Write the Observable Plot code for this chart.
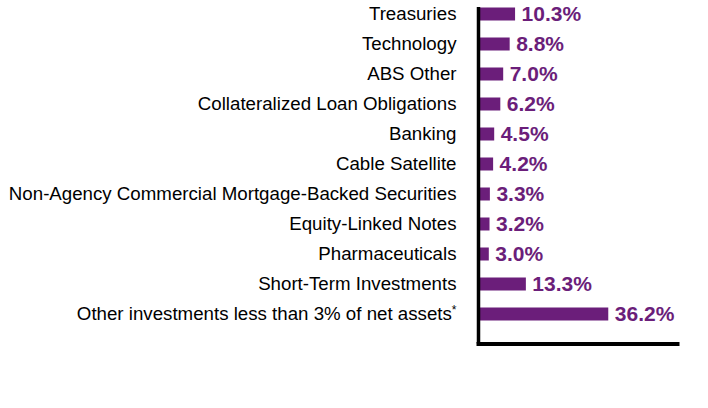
<!DOCTYPE html>
<html><head><meta charset="utf-8">
<script src="https://cdn.jsdelivr.net/npm/d3@7"></script>
<script src="https://cdn.jsdelivr.net/npm/@observablehq/plot@0.6"></script>
<style>body{margin:0;background:#fff;}</style>
</head><body><div id="chart"></div>
<script>
const categories = [
  "Treasuries",
  "Technology",
  "ABS Other",
  "Collateralized Loan Obligations",
  "Banking",
  "Cable Satellite",
  "Non-Agency Commercial Mortgage-Backed Securities",
  "Equity-Linked Notes",
  "Pharmaceuticals",
  "Short-Term Investments",
  "Other investments less than 3% of net assets"
];
const values = [10.3, 8.8, 7.0, 6.2, 4.5, 4.2, 3.3, 3.2, 3.0, 13.3, 36.2];
const footnoted = ["Other investments less than 3% of net assets"];
const data = categories.map((c, i) => ({category: c, value: values[i]}));
const purple = "#6b1e7a";

const chart = Plot.plot({
  width: 708, height: 408,
  marginTop: 7, marginBottom: 64.5, marginLeft: 478, marginRight: 31,
  x: {domain: [0, 55.3], axis: null},
  y: {domain: categories, range: [-1.5, 328.5], padding: 0, axis: null},
  style: {fontFamily: "'Liberation Sans', Arial, sans-serif", background: "white"},
  marks: [
    Plot.barX(data, {x: "value", y: "category", fill: purple, insetTop: 8.5, insetBottom: 8.5}),
    Plot.text(data, {x: 0, y: "category", text: "category", textAnchor: "end", dx: -22, fontSize: 18.7, fill: "black"}),
    Plot.text(data, {x: "value", y: "category", text: d => d.value.toFixed(1) + "%", textAnchor: "start", dx: 6, fontSize: 21, fontWeight: "bold", fill: purple}),
    Plot.ruleX([0], {stroke: "black", strokeWidth: 3.5}),
    Plot.frame({anchor: "bottom", stroke: "black", strokeWidth: 4})
  ]
});
chart.querySelectorAll("text").forEach(t => {
  if (footnoted.includes(t.textContent)) {
    const ts = document.createElementNS("http://www.w3.org/2000/svg", "tspan");
    ts.setAttribute("dy", "-0.55em");
    ts.setAttribute("font-size", "12");
    ts.textContent = "*";
    t.appendChild(ts);
  }
});
document.getElementById("chart").appendChild(chart);
</script>
</body></html>
